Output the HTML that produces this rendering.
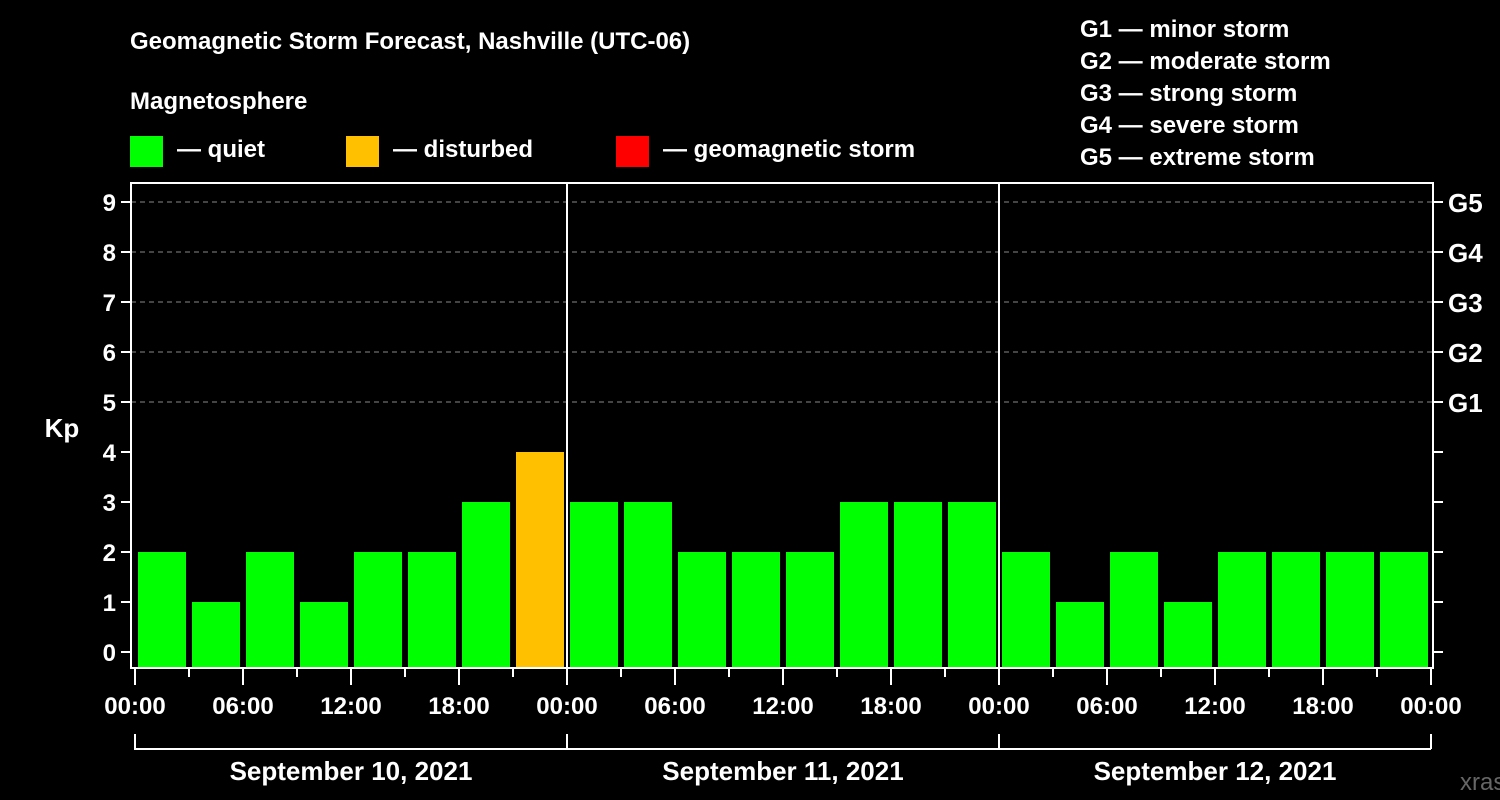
<!DOCTYPE html>
<html><head><meta charset="utf-8"><style>
body{margin:0;background:#000;}
svg{display:block;font-family:"Liberation Sans",sans-serif;font-weight:bold;}
</style></head><body>
<svg id="c" width="1500" height="800">
<rect width="1500" height="800" fill="#000"/>
<text x="130" y="49" fill="#fff" font-size="24">Geomagnetic Storm Forecast, Nashville (UTC-06)</text>
<text x="130" y="109" fill="#fff" font-size="24">Magnetosphere</text>
<g><rect x="130" y="136" width="33" height="31" fill="#00ff00"/><text x="177" y="157" fill="#fff" font-size="24">— quiet</text></g>
<g><rect x="346" y="136" width="33" height="31" fill="#ffc000"/><text x="393" y="157" fill="#fff" font-size="24">— disturbed</text></g>
<g><rect x="616" y="136" width="33" height="31" fill="#ff0000"/><text x="663" y="157" fill="#fff" font-size="24">— geomagnetic storm</text></g>
<g fill="#fff" font-size="24">
<text x="1080" y="37">G1 — minor storm</text>
<text x="1080" y="69">G2 — moderate storm</text>
<text x="1080" y="101">G3 — strong storm</text>
<text x="1080" y="133">G4 — severe storm</text>
<text x="1080" y="165">G5 — extreme storm</text>
</g>
<text x="62" y="437" fill="#fff" font-size="26" text-anchor="middle">Kp</text>
<text x="1460" y="790" fill="#666" font-size="24" font-weight="normal">xras.ru</text>
<g id="g"></g>
</svg>
<script>
const kpValues=[2,1,2,1,2,2,3,4, 3,3,2,2,2,3,3,3, 2,1,2,1,2,2,2,2];
const dayLabels=["September 10, 2021","September 11, 2021","September 12, 2021"];
const hourLabels=["00:00","06:00","12:00","18:00"];
const gLabels=["G1","G2","G3","G4","G5"];
const NS="http://www.w3.org/2000/svg";
const g=document.getElementById('g');
const X0=135,SLOT=54,Y0=652,UNIT=50,TOP=183,BOT=668,L=131,R=1433;
const x=i=>X0+i*SLOT, y=v=>Y0-v*UNIT;
function mk(t,a,p){const e=document.createElementNS(NS,t);for(const k in a)e.setAttribute(k,a[k]);(p||g).appendChild(e);return e;}
// grid
for(let v=5;v<=9;v++){const l=mk('line',{x1:L,x2:R,y1:y(v),y2:y(v),stroke:'#888','stroke-dasharray':'5,4'});

}
// bars
kpValues.forEach((v,i)=>{const col=v>=5?'#ff0000':v>=4?'#ffc000':'#00ff00';
const r=mk('rect',{x:x(i)+3,y:y(v),width:48,height:BOT-y(v),fill:col});

});
// frame
const fr=mk('rect',{x:L,y:TOP,width:R-L,height:BOT-TOP,fill:'none',stroke:'#fff','stroke-width':2});


for(let d=1;d<3;d++){const l=mk('line',{x1:x(d*8),x2:x(d*8),y1:TOP,y2:BOT,stroke:'#fff','stroke-width':2});

}
// y ticks
for(let v=0;v<=9;v++){
mk('line',{x1:L-10,x2:L,y1:y(v),y2:y(v),stroke:'#fff','stroke-width':2});
mk('line',{x1:R,x2:R+10,y1:y(v),y2:y(v),stroke:'#fff','stroke-width':2});
const t=mk('text',{x:L-15,y:y(v)+9,fill:'#fff','font-size':24,'text-anchor':'end'});t.textContent=v;

}
gLabels.forEach((s,i)=>{const t=mk('text',{x:1448,y:y(5+i)+10,fill:'#fff','font-size':26});t.textContent=s;

});
// x ticks
for(let i=0;i<=24;i++){const major=i%2===0;
mk('line',{x1:x(i),x2:x(i),y1:BOT,y2:BOT+(major?17:9),stroke:'#fff','stroke-width':2});
if(major){const t=mk('text',{x:x(i),y:714,fill:'#fff','font-size':24,'text-anchor':'middle'});t.textContent=hourLabels[(i/2)%4];

}}
// day brackets
dayLabels.forEach((s,d)=>{
mk('path',{d:`M${x(d*8)} 734V749H${x(d*8+8)}`,fill:'none',stroke:'#fff','stroke-width':2});
const t=mk('text',{x:x(d*8+4),y:780,fill:'#fff','font-size':26,'text-anchor':'middle'});t.textContent=s;

});
mk('line',{x1:x(24),x2:x(24),y1:734,y2:749,stroke:'#fff','stroke-width':2});
</script>
</body></html>
